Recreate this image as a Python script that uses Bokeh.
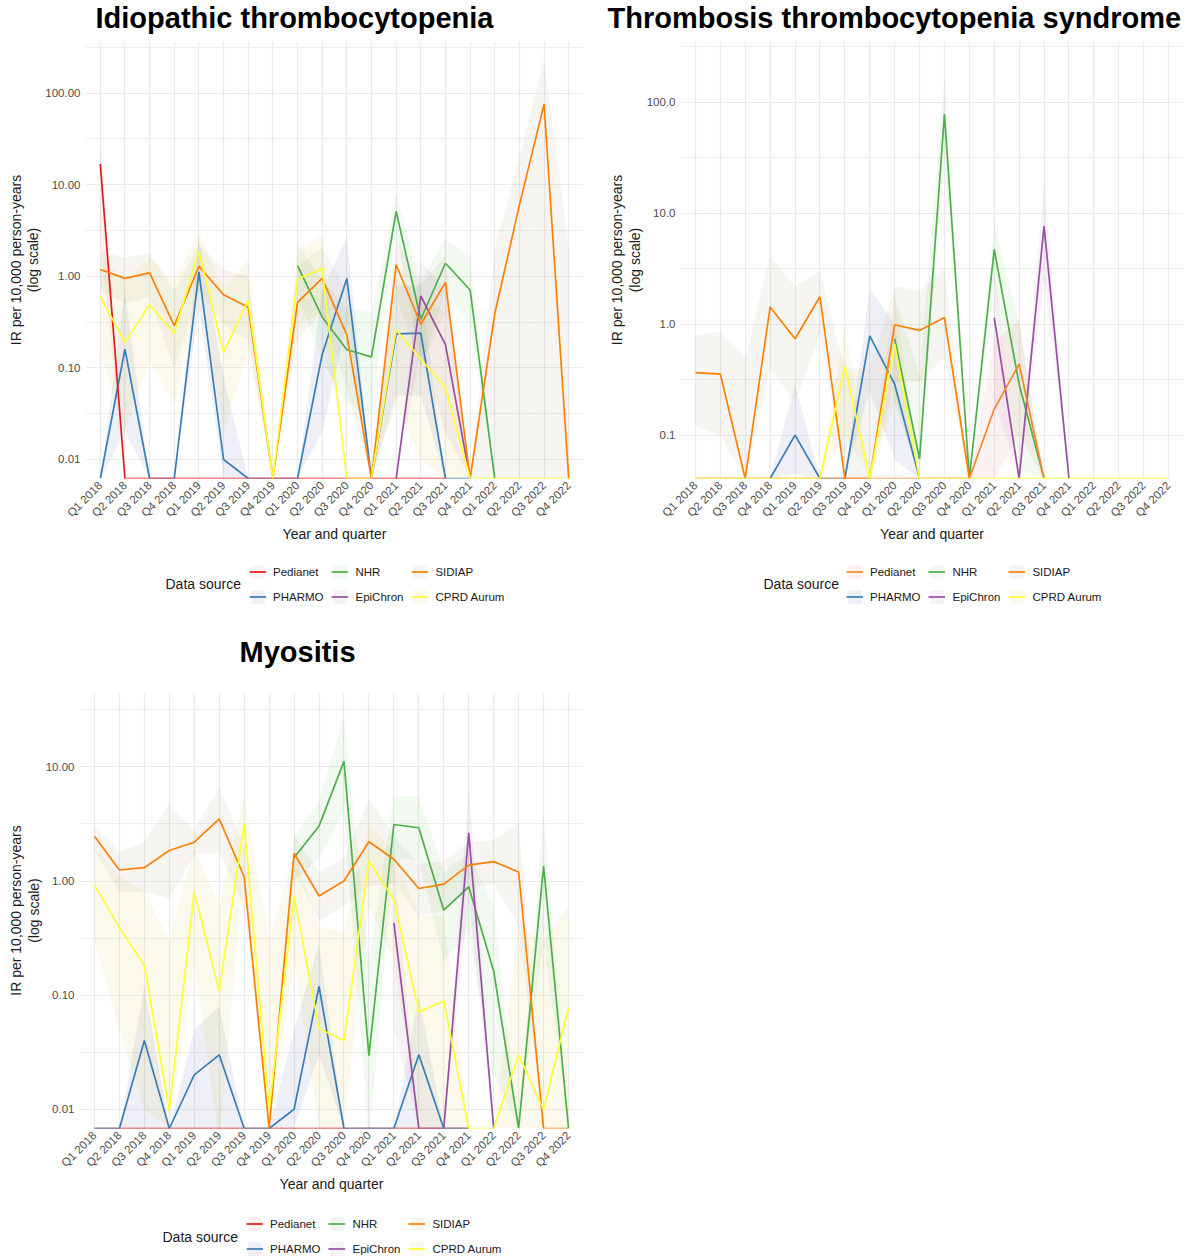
import math

from bokeh.embed import file_html
from bokeh.layouts import column, row
from bokeh.models import (FactorRange, FixedTicker, Label, Legend, LegendItem,
                          PrintfTickFormatter, Range1d)
from bokeh.plotting import figure
from bokeh.resources import INLINE

N = None

QUARTERS = ["Q1 2018", "Q2 2018", "Q3 2018", "Q4 2018",
            "Q1 2019", "Q2 2019", "Q3 2019", "Q4 2019",
            "Q1 2020", "Q2 2020", "Q3 2020", "Q4 2020",
            "Q1 2021", "Q2 2021", "Q3 2021", "Q4 2021",
            "Q1 2022", "Q2 2022", "Q3 2022", "Q4 2022"]

SOURCES = ["Pedianet", "PHARMO", "NHR", "EpiChron", "SIDIAP", "CPRD Aurum"]

# ---- Idiopathic thrombocytopenia: IR per 10,000 person-years (0 = no events) ----
IT_PEDIANET    = [16.9, 0, 0, 0, 0, 0, 0, 0, 0, 0, 0, 0, 0, 0, 0, N, N, N, N, N]
IT_PEDIANET_LO = [2.5, 0, 0, 0, 0, 0, 0, 0, 0, 0, 0, 0, 0, 0, 0, N, N, N, N, N]
IT_PEDIANET_HI = [34, 0, 0, 0, 0, 0, 0, 0, 0, 0, 0, 0, 0, 0, 0, N, N, N, N, N]

IT_PHARMO    = [0, 0.16, 0, 0, 1.12, 0.010, 0, 0, 0, 0.14, 0.95, 0, 0.235, 0.24, 0, 0, N, N, N, N]
IT_PHARMO_LO = [0, 0.02, 0, 0, 0.45, 0, 0, 0, 0, 0.02, 0.3, 0, 0.05, 0.05, 0, 0, N, N, N, N]
IT_PHARMO_HI = [0, 0.7, 0, 0, 2.6, 0.08, 0, 0, 0, 0.7, 2.7, 0, 0.8, 0.8, 0, 0, N, N, N, N]

IT_NHR    = [N, N, N, N, N, N, N, N, 1.31, 0.36, 0.158, 0.132, 5.13, 0.34, 1.39, 0.71, 0, N, N, N]
IT_NHR_LO = [N, N, N, N, N, N, N, N, 0.6, 0.12, 0.04, 0.03, 3.0, 0.1, 0.7, 0.3, 0, N, N, N]
IT_NHR_HI = [N, N, N, N, N, N, N, N, 2.3, 0.9, 0.45, 0.4, 8.0, 0.9, 2.6, 1.6, 0, N, N, N]

IT_EPICHRON    = [N, N, N, N, N, N, N, N, N, N, N, N, 0, 0.61, 0.18, 0, N, N, N, N]
IT_EPICHRON_LO = [N, N, N, N, N, N, N, N, N, N, N, N, 0, 0.15, 0.02, 0, N, N, N, N]
IT_EPICHRON_HI = [N, N, N, N, N, N, N, N, N, N, N, N, 0, 1.5, 0.7, 0, N, N, N, N]

IT_SIDIAP    = [1.19, 0.95, 1.09, 0.29, 1.29, 0.63, 0.46, 0, 0.52, 0.95, 0.23, 0, 1.34, 0.30, 0.86, 0, 0.39, 6.0, 76, 0]
IT_SIDIAP_LO = [0.7, 0.5, 0.6, 0.1, 0.7, 0.3, 0.2, 0, 0.2, 0.4, 0.06, 0, 0.6, 0.1, 0.4, 0, 0, 0, 0, 0]
IT_SIDIAP_HI = [1.9, 1.6, 1.8, 0.7, 2.2, 1.2, 1.0, 0, 1.3, 2.1, 0.7, 0, 2.6, 0.8, 1.7, 0, 2.0, 20, 230, 2.0]

IT_CPRD    = [0.60, 0.19, 0.49, 0.24, 1.87, 0.148, 0.55, 0, 0.93, 1.22, 0, 0, 0.26, 0.125, 0.061, 0, 0, 0, 0, 0]
IT_CPRD_LO = [0.15, 0.02, 0.12, 0.04, 0.8, 0.02, 0.15, 0, 0.3, 0.4, 0, 0, 0.04, 0.01, 0, 0, 0, 0, 0, 0]
IT_CPRD_HI = [1.7, 0.9, 1.6, 0.9, 3.0, 0.7, 1.5, 0, 1.9, 2.8, 0, 0, 1.0, 0.6, 0.4, 0, 0, 0, 0, 0]

# ---- Thrombosis thrombocytopenia syndrome ----
TTS_PEDIANET    = [0, 0, 0, 0, 0, 0, 0, 0, 0, 0, 0, 0, 0.172, 0.436, 0, N, N, N, N, N]
TTS_PEDIANET_LO = [0, 0, 0, 0, 0, 0, 0, 0, 0, 0, 0, 0, 0, 0.1, 0, N, N, N, N, N]
TTS_PEDIANET_HI = [0, 0, 0, 0, 0, 0, 0, 0, 0, 0, 0, 0, 0.7, 1.1, 0, N, N, N, N, N]

TTS_PHARMO    = [N, N, N, 0, 0.1, 0, 0, 0.785, 0.288, 0, N, N, N, N, N, N, N, N, N, N]
TTS_PHARMO_LO = [N, N, N, 0, 0.045, 0, 0, 0.25, 0.06, 0, N, N, N, N, N, N, N, N, N, N]
TTS_PHARMO_HI = [N, N, N, 0, 0.29, 0, 0, 2.1, 1.0, 0, N, N, N, N, N, N, N, N, N, N]

TTS_NHR    = [N, N, N, N, N, N, N, N, 0.74, 0.061, 78.7, 0, 4.73, 0.288, 0, N, N, N, N, N]
TTS_NHR_LO = [N, N, N, N, N, N, N, N, 0.2, 0, 35, 0, 2.4, 0.05, 0, N, N, N, N, N]
TTS_NHR_HI = [N, N, N, N, N, N, N, N, 1.8, 0.35, 170, 0, 8.0, 1.0, 0, N, N, N, N, N]

TTS_EPICHRON    = [N, N, N, N, N, N, N, N, N, N, N, N, 1.15, 0, 7.67, 0, N, N, N, N]
TTS_EPICHRON_LO = [N, N, N, N, N, N, N, N, N, N, N, N, 0.2, 0, 2.5, 0, N, N, N, N]
TTS_EPICHRON_HI = [N, N, N, N, N, N, N, N, N, N, N, N, 3.0, 0, 20, 0, N, N, N, N]

TTS_SIDIAP    = [0.367, 0.355, 0, 1.43, 0.74, 1.77, 0, 0, 0.99, 0.88, 1.15, 0, N, N, N, N, N, N, N, N]
TTS_SIDIAP_LO = [0.12, 0.1, 0, 0.4, 0.2, 0.8, 0, 0, 0.3, 0.3, 0.5, 0, N, N, N, N, N, N, N, N]
TTS_SIDIAP_HI = [0.8, 0.85, 0.5, 4.1, 2.2, 3.0, 0.4, 0.4, 2.2, 2.0, 3.2, 0, N, N, N, N, N, N, N, N]

TTS_CPRD    = [0, 0, 0, 0, 0, 0, 0.42, 0, 0.66, 0, 0, 0, 0, 0, 0, 0, 0, 0, 0, 0]
TTS_CPRD_LO = [0, 0, 0, 0, 0, 0, 0.1, 0, 0.2, 0, 0, 0, 0, 0, 0, 0, 0, 0, 0, 0]
TTS_CPRD_HI = [0, 0, 0, 0, 0, 0, 1.0, 0, 1.9, 0, 0, 0, 0, 0, 0, 0, 0, 0, 0, 0]

# ---- Myositis ----
MY_PEDIANET    = [0, 0, 0, 0, 0, 0, 0, 0, 0, 0, 0, 0, 0, 0, 0, 0, N, N, N, N]
MY_PEDIANET_LO = [0, 0, 0, 0, 0, 0, 0, 0, 0, 0, 0, 0, 0, 0, 0, 0, N, N, N, N]
MY_PEDIANET_HI = [0, 0, 0, 0, 0, 0, 0, 0, 0, 0, 0, 0, 0, 0, 0, 0, N, N, N, N]

MY_PHARMO    = [0, 0, 0.040, 0, 0.020, 0.030, 0, 0, 0.010, 0.119, 0, 0, 0, 0.030, 0, 0, N, N, N, N]
MY_PHARMO_LO = [0, 0, 0.005, 0, 0.003, 0.005, 0, 0, 0, 0.03, 0, 0, 0, 0.004, 0, 0, N, N, N, N]
MY_PHARMO_HI = [0, 0, 0.12, 0, 0.05, 0.08, 0, 0, 0.05, 0.28, 0, 0, 0, 0.1, 0, 0, N, N, N, N]

MY_NHR    = [N, N, N, N, N, N, N, N, 1.6, 3.03, 11.2, 0.0295, 3.13, 2.93, 0.555, 0.89, 0.163, 0, 1.35, 0]
MY_NHR_LO = [N, N, N, N, N, N, N, N, 1.0, 1.6, 4.0, 0.005, 1.6, 1.5, 0.2, 0.35, 0.02, 0, 0.3, 0]
MY_NHR_HI = [N, N, N, N, N, N, N, N, 2.4, 5.0, 28, 0.2, 5.5, 5.5, 1.2, 1.8, 0.6, 0, 4.0, 0]

MY_EPICHRON    = [N, N, N, N, N, N, N, N, N, N, N, N, 0.43, 0, 0, 2.65, 0, N, N, N]
MY_EPICHRON_LO = [N, N, N, N, N, N, N, N, N, N, N, N, 0.05, 0, 0, 0.7, 0, N, N, N]
MY_EPICHRON_HI = [N, N, N, N, N, N, N, N, N, N, N, N, 1.5, 0, 0, 7.0, 0, N, N, N]

MY_SIDIAP    = [2.47, 1.25, 1.31, 1.85, 2.19, 3.51, 1.09, 0, 1.75, 0.74, 1.0, 2.21, 1.55, 0.86, 0.94, 1.38, 1.48, 1.2, 0, 0]
MY_SIDIAP_LO = [1.9, 0.8, 0.8, 0.7, 1.7, 1.8, 0.6, 0, 1.2, 0.45, 0.6, 0.9, 0.95, 0.5, 0.55, 0.85, 0.95, 0.4, 0, 0]
MY_SIDIAP_HI = [3.0, 1.8, 2.2, 4.7, 2.8, 6.6, 2.0, 0, 2.5, 1.2, 1.6, 5.3, 2.5, 1.4, 1.5, 2.2, 2.3, 3.3, 0, 0]

MY_CPRD    = [0.92, 0.39, 0.183, 0.0098, 0.80, 0.109, 3.19, 0.01, 0.74, 0.051, 0.040, 1.5, 0.69, 0.071, 0.089, 0, 0, 0.030, 0.0099, 0.078]
MY_CPRD_LO = [0.3, 0.05, 0.01, 0, 0.2, 0.005, 1.5, 0, 0.2, 0, 0, 0.6, 0.2, 0, 0, 0, 0, 0, 0, 0]
MY_CPRD_HI = [2.0, 1.1, 0.8, 0.3, 2.0, 0.6, 5.5, 0.3, 1.8, 0.4, 0.35, 3.2, 1.8, 0.5, 0.5, 0, 0, 0.4, 0.3, 0.6]

# ---- styling ----
FONT = "Liberation Sans"
RED, BLUE, GREEN = "#E41A1C", "#377EB8", "#4DAF4A"
PURPLE, ORANGE, YELLOW = "#984EA3", "#FF7F00", "#FFFF33"
GRID = "#EBEBEB"

# confidence-band fills (colour, alpha)
BAND = {
    "Pedianet": (RED, 0.06),
    "PHARMO": ("#4B5BA8", 0.09),
    "NHR": (GREEN, 0.08),
    "EpiChron": (PURPLE, 0.08),
    "SIDIAP": ("#A89060", 0.09),
    "CPRD Aurum": ("#D0C840", 0.10),
}
LINE_W = 1.7
NAN = float("nan")


def present(vals, lo, hi, floor):
    """Keep the quarters that have data; zero rates sit on the axis floor."""
    idx = [i for i, v in enumerate(vals) if v is not None]
    on_floor = lambda v: floor if v <= 0 else v
    xs = [QUARTERS[i] for i in idx]
    return (xs,
            [on_floor(vals[i]) for i in idx],
            [on_floor(lo[i]) for i in idx],
            [on_floor(hi[i]) for i in idx])


def blank_strip(width, height):
    """Axis-less figure whose data units are pixels, for titles and keys."""
    sp = figure(width=width, height=height, x_range=Range1d(0, width),
                y_range=Range1d(0, height), output_backend="svg",
                toolbar_location=None, x_axis_location=None,
                y_axis_location=None, min_border=0,
                outline_line_color=None, background_fill_color="white",
                border_fill_color="white")
    sp.grid.visible = False
    return sp


def title_strip(width, height, text, x, middle):
    ts = blank_strip(width, height)
    ts.add_layout(Label(x=x, y=middle, text=text, text_font=FONT,
                        text_font_size="29px", text_font_style="bold",
                        text_color="black", text_baseline="middle",
                        text_align="left"))
    return ts


def panel(series, line_colors, draw_order, floor, top, ticks, fmt,
          size, border):
    w, h = size
    b_left, b_right, b_bottom = border
    p = figure(width=w, height=h,
               x_range=FactorRange(factors=QUARTERS, range_padding=0.1,
                                   range_padding_units="absolute"),
               y_axis_type="log", y_range=Range1d(floor, top),
               output_backend="svg", toolbar_location=None,
               min_border_left=b_left, min_border_right=b_right,
               min_border_top=0, min_border_bottom=b_bottom,
               outline_line_color=None, background_fill_color="white",
               border_fill_color="white")

    # log axis: labelled decades, minor grid half-way between them
    minor = [10 ** (math.log10(t) + 0.5) for t in ticks]
    ticker = FixedTicker(ticks=ticks, minor_ticks=minor)
    p.yaxis.ticker = ticker
    p.ygrid.ticker = ticker
    p.yaxis.formatter = PrintfTickFormatter(format=fmt)
    p.yaxis.axis_label = "IR per 10,000 person-years\n(log scale)"
    p.xaxis.axis_label = "Year and quarter"
    p.xaxis.major_label_orientation = math.pi / 4

    for ax in (p.xaxis, p.yaxis):
        ax.axis_line_color = None
        ax.major_tick_line_color = None
        ax.minor_tick_line_color = None
        ax.major_tick_out = 0
        ax.major_tick_in = 0
        ax.minor_tick_out = 0
        ax.minor_tick_in = 0
        ax.major_label_text_font = FONT
        ax.major_label_text_font_size = "11.5px"
        ax.major_label_text_color = "#4D4D4D"
        ax.major_label_standoff = 5
        ax.axis_label_text_font = FONT
        ax.axis_label_text_font_size = "14px"
        ax.axis_label_text_font_style = "normal"
        ax.axis_label_text_color = "#1A1A1A"
        ax.axis_label_text_line_height = 1.1
    p.xaxis.axis_label_standoff = 0
    p.yaxis.axis_label_standoff = 1

    p.xgrid.grid_line_color = GRID
    p.xgrid.grid_line_width = 1.2
    p.ygrid.grid_line_color = GRID
    p.ygrid.grid_line_width = 1.2
    p.ygrid.minor_grid_line_color = GRID
    p.ygrid.minor_grid_line_width = 0.9

    for name in draw_order:
        vals, lo, hi = series[name]
        xs, ys, ylo, yhi = present(vals, lo, hi, floor)
        fill, alpha = BAND[name]
        p.varea(x=xs, y1=ylo, y2=yhi, fill_color=fill, fill_alpha=alpha)
    for name in draw_order:
        vals, lo, hi = series[name]
        xs, ys, ylo, yhi = present(vals, lo, hi, floor)
        p.line(x=xs, y=ys, line_color=line_colors[name], line_width=LINE_W)
    return p


def legend_strip(width, height, line_colors, title_x, title_y, keys_x, keys_y):
    """Strip under a panel holding the 'Data source' key."""
    lp = blank_strip(width, height)
    items = []
    for name in SOURCES:
        fill, alpha = BAND[name]
        # key swatches only: the renderers hold a single empty (NaN) row
        band = lp.varea(x=[NAN], y1=[NAN], y2=[NAN], fill_color=fill,
                        fill_alpha=alpha)
        ln = lp.line(x=[NAN], y=[NAN], line_color=line_colors[name],
                     line_width=LINE_W)
        items.append(LegendItem(label=name, renderers=[band, ln]))
    legend = Legend(items=items, location=(keys_x, keys_y),
                    orientation="vertical", nrows=2,
                    label_text_font=FONT, label_text_font_size="11.5px",
                    label_text_color="#1A1A1A", label_standoff=7,
                    label_height=17, glyph_width=17, glyph_height=17,
                    spacing=8, padding=0, margin=0,
                    background_fill_alpha=0, border_line_alpha=0)
    lp.add_layout(legend)
    lp.add_layout(Label(x=title_x, y=title_y, text="Data source",
                        text_font=FONT, text_font_size="14px",
                        text_color="#1A1A1A", text_baseline="middle",
                        text_align="left"))
    return lp


SET1 = {"Pedianet": RED, "PHARMO": BLUE, "NHR": GREEN, "EpiChron": PURPLE,
        "SIDIAP": ORANGE, "CPRD Aurum": YELLOW}
TTS_LINES = dict(SET1, Pedianet="#F7862B")

it_series = {
    "Pedianet": (IT_PEDIANET, IT_PEDIANET_LO, IT_PEDIANET_HI),
    "PHARMO": (IT_PHARMO, IT_PHARMO_LO, IT_PHARMO_HI),
    "NHR": (IT_NHR, IT_NHR_LO, IT_NHR_HI),
    "EpiChron": (IT_EPICHRON, IT_EPICHRON_LO, IT_EPICHRON_HI),
    "SIDIAP": (IT_SIDIAP, IT_SIDIAP_LO, IT_SIDIAP_HI),
    "CPRD Aurum": (IT_CPRD, IT_CPRD_LO, IT_CPRD_HI),
}
tts_series = {
    "Pedianet": (TTS_PEDIANET, TTS_PEDIANET_LO, TTS_PEDIANET_HI),
    "PHARMO": (TTS_PHARMO, TTS_PHARMO_LO, TTS_PHARMO_HI),
    "NHR": (TTS_NHR, TTS_NHR_LO, TTS_NHR_HI),
    "EpiChron": (TTS_EPICHRON, TTS_EPICHRON_LO, TTS_EPICHRON_HI),
    "SIDIAP": (TTS_SIDIAP, TTS_SIDIAP_LO, TTS_SIDIAP_HI),
    "CPRD Aurum": (TTS_CPRD, TTS_CPRD_LO, TTS_CPRD_HI),
}
my_series = {
    "Pedianet": (MY_PEDIANET, MY_PEDIANET_LO, MY_PEDIANET_HI),
    "PHARMO": (MY_PHARMO, MY_PHARMO_LO, MY_PHARMO_HI),
    "NHR": (MY_NHR, MY_NHR_LO, MY_NHR_HI),
    "EpiChron": (MY_EPICHRON, MY_EPICHRON_LO, MY_EPICHRON_HI),
    "SIDIAP": (MY_SIDIAP, MY_SIDIAP_LO, MY_SIDIAP_HI),
    "CPRD Aurum": (MY_CPRD, MY_CPRD_LO, MY_CPRD_HI),
}

t1 = title_strip(597, 41, "Idiopathic thrombocytopenia", 95, 24)
t2 = title_strip(598, 41, "Thrombosis thrombocytopenia syndrome", 10, 24)
p1 = panel(it_series, SET1,
           ["PHARMO", "NHR", "EpiChron", "Pedianet", "SIDIAP", "CPRD Aurum"],
           0.0062, 367, [0.01, 0.1, 1, 10, 100], "%.2f",
           (597, 504), (85, 14, 67))
p2 = panel(tts_series, TTS_LINES,
           ["PHARMO", "NHR", "EpiChron", "SIDIAP", "Pedianet", "CPRD Aurum"],
           0.0407, 354, [0.1, 1, 10, 100], "%.1f",
           (598, 504), (83, 12, 67))
l1 = legend_strip(597, 65, SET1, 165, 27, 249, 5)
l2 = legend_strip(598, 65, TTS_LINES, 166, 27, 249, 5)

t3 = title_strip(597, 82, "Myositis", 239, 41)
p3 = panel(my_series, SET1,
           ["Pedianet", "PHARMO", "NHR", "EpiChron", "SIDIAP", "CPRD Aurum"],
           0.00678, 44.9, [0.01, 0.1, 1, 10], "%.2f",
           (597, 503), (79, 14, 65))
l3 = legend_strip(597, 62, SET1, 162, 21, 246, 0)

layout = column(row(t1, t2), row(p1, p2), row(l1, l2),
                row(t3), row(p3), row(l3))

with open("out.html", "w") as f:
    f.write(file_html(layout, INLINE))
